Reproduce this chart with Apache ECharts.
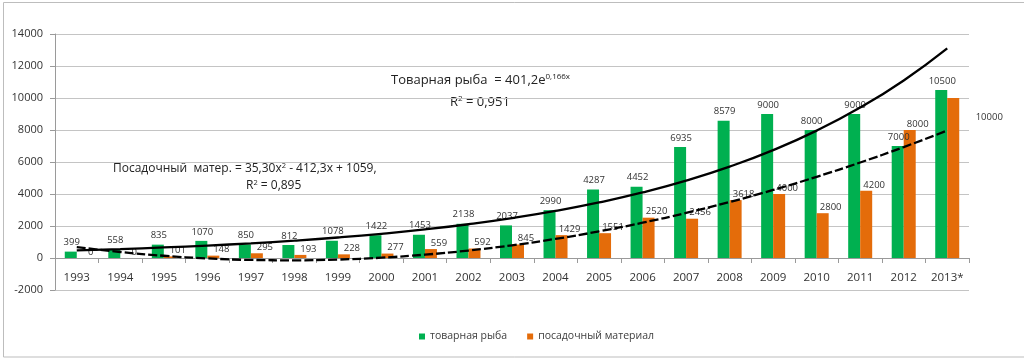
<!DOCTYPE html>
<html><head><meta charset="utf-8">
<script src="https://cdn.jsdelivr.net/npm/echarts@6/dist/echarts.min.js"></script>
<style>html,body{margin:0;padding:0;background:#fff}#c{width:1024px;height:361px}</style>
</head><body><div id="c"></div>
<script>
var years = ['1993','1994','1995','1996','1997','1998','1999','2000','2001','2002','2003','2004','2005','2006','2007','2008','2009','2010','2011','2012','2013*'];
var fish = [399,558,835,1070,850,812,1078,1422,1453,2138,2037,2990,4287,4452,6935,8579,9000,8000,9000,7000,10500];
var seed = [0,0,101,148,295,193,228,277,559,592,845,1429,1551,2520,2456,3618,4000,2800,4200,8000,10000];
// trend lines (exponential and polynomial fits shown in the picture)
var fishTrend = [474,559,660,779,920,1086,1282,1514,1787,2110,2491,2941,3472,4099,4839,5713,6745,7962,9400,11098,13103];
var seedTrend = [682,376,140,-25,-120,-144,-97,20,208,466,795,1195,1665,2206,2817,3499,4252,5075,5969,6933,7967];
var seriesNames = ['товарная рыба','посадочный материал'];

var FONT = '"Open Sans", "DejaVu Sans", sans-serif';
var chart = echarts.init(document.getElementById('c'));
var seedData = seed.map(function(v,i){
  var d = {value:v};
  if (i === seed.length-1) d.label = {offset:[36,26]};
  return d;
});
chart.setOption({
  animation:false,
  textStyle:{fontFamily:FONT},
  grid:{left:55,right:55,top:34,bottom:71,containLabel:false},
  legend:{
    data:seriesNames, bottom:14, left:414, icon:'rect', itemWidth:6, itemHeight:6, itemGap:20,
    textStyle:{fontFamily:FONT,fontSize:10.5,color:'#404040'}
  },
  xAxis:{
    type:'category', data:years, position:'bottom', offset:-32,
    axisLine:{show:true,onZero:false,lineStyle:{color:'#9a9a9a',width:1}},
    axisTick:{show:true,length:5,lineStyle:{color:'#9a9a9a'}},
    axisLabel:{color:'#333',fontSize:11.5,margin:14,fontFamily:FONT,interval:0}
  },
  yAxis:{
    type:'value', min:-2000, max:14000, interval:2000,
    axisLine:{show:true,onZero:false,lineStyle:{color:'#9a9a9a'}},
    axisTick:{show:true,length:5,lineStyle:{color:'#9a9a9a'}},
    axisLabel:{color:'#333',fontSize:11,margin:12,fontFamily:FONT,formatter:function(v){return String(v);}},
    splitLine:{lineStyle:{color:'#c4c4c4',width:1.2}}
  },
  series:[
    {name:seriesNames[0],type:'bar',data:fish,barWidth:12,barGap:'0%',
     itemStyle:{color:'#00b050'},
     label:{show:true,position:'top',distance:4,fontSize:9.5,color:'#333',fontFamily:FONT,offset:[1,0]}},
    {name:seriesNames[1],type:'bar',data:seedData,barWidth:12,
     itemStyle:{color:'#e46c0a'},
     label:{show:true,position:'top',distance:2,fontSize:9.5,color:'#333',fontFamily:FONT,offset:[8,1]}},
    {name:'trend1',type:'line',data:fishTrend,smooth:true,showSymbol:false,symbol:'none',z:5,
     lineStyle:{color:'#000',width:2.3}},
    {name:'trend2',type:'line',data:seedTrend,smooth:true,showSymbol:false,symbol:'none',z:5,
     lineStyle:{color:'#000',width:2.3,type:[9,3]}}
  ],
  graphic:[
    {type:'rect',shape:{x:3.5,y:2.5,width:1100,height:354.5},style:{fill:'none',stroke:'#bdbdbd',lineWidth:1},silent:true},
    {type:'text',left:391,top:73,style:{
      text:'{a|Товарная рыба  = 401,2e}{s|0,166x}',
      rich:{a:{fontFamily:FONT,fontSize:13,fill:'#222',color:'#222',lineHeight:19},
            s:{fontFamily:FONT,fontSize:8,fill:'#222',color:'#222',lineHeight:19,padding:[0,0,6,0]}}}},
    {type:'text',left:450,top:95,style:{
      text:'{a|R}{s|2}{a| = 0,951}',
      rich:{a:{fontFamily:FONT,fontSize:13,fill:'#222',color:'#222',lineHeight:19},
            s:{fontFamily:FONT,fontSize:8,fill:'#222',color:'#222',lineHeight:19,padding:[0,0,6,0]}}}},
    {type:'text',left:113,top:162,style:{
      text:'{a|Посадочный  матер. = 35,30x}{s|2}{a| - 412,3x + 1059,}',
      rich:{a:{fontFamily:FONT,fontSize:12,fill:'#222',color:'#222',lineHeight:17},
            s:{fontFamily:FONT,fontSize:7.5,fill:'#222',color:'#222',lineHeight:17,padding:[0,0,6,0]}}}},
    {type:'text',left:246,top:179,style:{
      text:'{a|R}{s|2}{a| = 0,895}',
      rich:{a:{fontFamily:FONT,fontSize:12,fill:'#222',color:'#222',lineHeight:17},
            s:{fontFamily:FONT,fontSize:7.5,fill:'#222',color:'#222',lineHeight:17,padding:[0,0,6,0]}}}}
  ]
});
</script></body></html>
